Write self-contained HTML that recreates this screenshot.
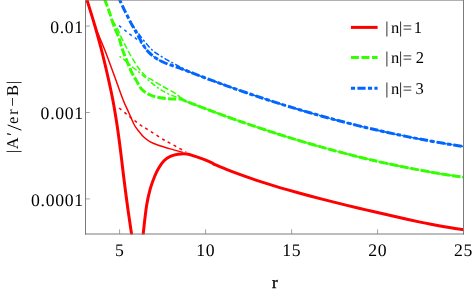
<!DOCTYPE html>
<html><head><meta charset="utf-8"><title>plot</title>
<style>html,body{margin:0;padding:0;background:#fff}body{width:474px;height:294px;overflow:hidden;font-family:"Liberation Serif",serif}text{text-rendering:geometricPrecision}</style>
</head><body>
<svg width="474" height="294" viewBox="0 0 474 294" style="display:block;will-change:transform">
<rect width="474" height="294" fill="#fff"/>
<defs><clipPath id="c"><rect x="85.5" y="0" width="378" height="234.6"/></clipPath></defs>
<g clip-path="url(#c)" fill="none" stroke-linecap="butt" stroke-linejoin="round">
<path d="M119.00 25.60 C120.03 26.42 123.37 29.05 125.20 30.50 C127.03 31.95 128.25 33.00 130.00 34.30 C131.75 35.60 133.95 36.97 135.70 38.30 C137.45 39.63 138.30 39.95 140.50 42.30 C142.70 44.65 146.35 49.77 148.90 52.40 C151.45 55.03 153.28 56.42 155.80 58.10 C158.32 59.78 161.13 61.22 164.00 62.50 C166.87 63.78 170.00 64.72 173.00 65.80 C176.00 66.88 179.17 67.95 182.00 69.00 C184.83 70.05 186.67 70.81 190.00 72.10 C193.33 73.39 198.00 75.20 202.00 76.71 C206.00 78.23 210.00 79.73 214.00 81.21 C218.00 82.69 222.00 84.15 226.00 85.58 C230.00 87.02 234.00 88.44 238.00 89.84 C242.00 91.23 246.00 92.61 250.00 93.97 C254.00 95.33 258.00 96.66 262.00 97.98 C266.00 99.29 270.00 100.59 274.00 101.87 C278.00 103.14 282.00 104.40 286.00 105.63 C290.00 106.86 294.00 108.08 298.00 109.27 C302.00 110.46 306.00 111.63 310.00 112.78 C314.00 113.94 318.00 115.07 322.00 116.18 C326.00 117.28 330.00 118.37 334.00 119.44 C338.00 120.51 342.00 121.55 346.00 122.58 C350.00 123.60 354.00 124.61 358.00 125.59 C362.00 126.57 366.00 127.53 370.00 128.47 C374.00 129.41 378.00 130.33 382.00 131.23 C386.00 132.13 390.00 133.00 394.00 133.86 C398.00 134.71 402.00 135.54 406.00 136.36 C410.00 137.17 414.00 137.96 418.00 138.72 C422.00 139.49 426.00 140.24 430.00 140.96 C434.00 141.69 438.00 142.39 442.00 143.07 C446.00 143.75 450.00 144.41 454.00 145.05 C458.00 145.68 463.33 146.49 466.00 146.89 C468.67 147.30 469.33 147.38 470.00 147.48" stroke="#0066ff" stroke-width="1.5" stroke-dasharray="3 3.6"/>
<path d="M131.40 23.90 C132.08 24.83 134.05 27.55 135.50 29.50 C136.95 31.45 138.28 33.22 140.10 35.60 C141.92 37.98 144.30 41.32 146.40 43.80 C148.50 46.28 150.40 48.50 152.70 50.50 C155.00 52.50 157.48 54.05 160.20 55.80 C162.92 57.55 166.70 59.70 169.00 61.00 C171.30 62.30 172.17 62.62 174.00 63.60 C175.83 64.58 177.33 65.48 180.00 66.90 C182.67 68.32 186.33 70.46 190.00 72.10 C193.67 73.74 198.00 75.20 202.00 76.71 C206.00 78.23 210.00 79.73 214.00 81.21 C218.00 82.69 222.00 84.15 226.00 85.58 C230.00 87.02 234.00 88.44 238.00 89.84 C242.00 91.23 246.00 92.61 250.00 93.97 C254.00 95.33 258.00 96.66 262.00 97.98 C266.00 99.29 270.00 100.59 274.00 101.87 C278.00 103.14 282.00 104.40 286.00 105.63 C290.00 106.86 294.00 108.08 298.00 109.27 C302.00 110.46 306.00 111.63 310.00 112.78 C314.00 113.94 318.00 115.07 322.00 116.18 C326.00 117.28 330.00 118.37 334.00 119.44 C338.00 120.51 342.00 121.55 346.00 122.58 C350.00 123.60 354.00 124.61 358.00 125.59 C362.00 126.57 366.00 127.53 370.00 128.47 C374.00 129.41 378.00 130.33 382.00 131.23 C386.00 132.13 390.00 133.00 394.00 133.86 C398.00 134.71 402.00 135.54 406.00 136.36 C410.00 137.17 414.00 137.96 418.00 138.72 C422.00 139.49 426.00 140.24 430.00 140.96 C434.00 141.69 438.00 142.39 442.00 143.07 C446.00 143.75 450.00 144.41 454.00 145.05 C458.00 145.68 463.33 146.49 466.00 146.89 C468.67 147.30 469.33 147.38 470.00 147.48" stroke="#0066ff" stroke-width="1.5" stroke-dasharray="5.5 2.2 2.2 2.2"/>
<path d="M118.00 -4.50 C118.33 -3.65 119.03 -1.62 120.00 0.60 C120.97 2.82 122.53 6.17 123.80 8.80 C125.07 11.43 126.33 13.88 127.60 16.40 C128.87 18.92 130.10 21.50 131.40 23.90 C132.70 26.30 134.07 28.43 135.40 30.80 C136.73 33.17 137.98 35.57 139.40 38.10 C140.82 40.63 142.32 43.62 143.90 46.00 C145.48 48.38 146.92 50.38 148.90 52.40 C150.88 54.42 153.28 56.42 155.80 58.10 C158.32 59.78 161.13 61.22 164.00 62.50 C166.87 63.78 170.00 64.72 173.00 65.80 C176.00 66.88 179.17 67.95 182.00 69.00 C184.83 70.05 186.67 70.81 190.00 72.10 C193.33 73.39 198.00 75.20 202.00 76.71 C206.00 78.23 210.00 79.73 214.00 81.21 C218.00 82.69 222.00 84.15 226.00 85.58 C230.00 87.02 234.00 88.44 238.00 89.84 C242.00 91.23 246.00 92.61 250.00 93.97 C254.00 95.33 258.00 96.66 262.00 97.98 C266.00 99.29 270.00 100.59 274.00 101.87 C278.00 103.14 282.00 104.40 286.00 105.63 C290.00 106.86 294.00 108.08 298.00 109.27 C302.00 110.46 306.00 111.63 310.00 112.78 C314.00 113.94 318.00 115.07 322.00 116.18 C326.00 117.28 330.00 118.37 334.00 119.44 C338.00 120.51 342.00 121.55 346.00 122.58 C350.00 123.60 354.00 124.61 358.00 125.59 C362.00 126.57 366.00 127.53 370.00 128.47 C374.00 129.41 378.00 130.33 382.00 131.23 C386.00 132.13 390.00 133.00 394.00 133.86 C398.00 134.71 402.00 135.54 406.00 136.36 C410.00 137.17 414.00 137.96 418.00 138.72 C422.00 139.49 426.00 140.24 430.00 140.96 C434.00 141.69 438.00 142.39 442.00 143.07 C446.00 143.75 450.00 144.41 454.00 145.05 C458.00 145.68 463.33 146.49 466.00 146.89 C468.67 147.30 469.33 147.38 470.00 147.48" stroke="#0066ff" stroke-width="3" stroke-dasharray="4.2 2.3 8.2 2.3" stroke-dashoffset="12.8"/>
<path d="M119.50 56.40 C120.65 57.23 124.52 59.83 126.40 61.40 C128.28 62.97 129.23 64.43 130.80 65.80 C132.37 67.17 134.02 68.20 135.80 69.60 C137.58 71.00 138.67 71.82 141.50 74.20 C144.33 76.58 149.22 81.07 152.80 83.90 C156.38 86.73 159.62 89.20 163.00 91.20 C166.38 93.20 170.27 94.77 173.10 95.90 C175.93 97.03 178.10 97.22 180.00 98.00 C181.90 98.78 182.50 99.67 184.50 100.60 C186.50 101.53 189.42 102.59 192.00 103.60 C194.58 104.61 196.67 105.41 200.00 106.68 C203.33 107.95 208.00 109.71 212.00 111.20 C216.00 112.69 220.00 114.16 224.00 115.61 C228.00 117.07 232.00 118.50 236.00 119.91 C240.00 121.33 244.00 122.72 248.00 124.10 C252.00 125.47 256.00 126.83 260.00 128.17 C264.00 129.50 268.00 130.82 272.00 132.11 C276.00 133.41 280.00 134.69 284.00 135.94 C288.00 137.20 292.00 138.43 296.00 139.64 C300.00 140.86 304.00 142.05 308.00 143.22 C312.00 144.39 316.00 145.54 320.00 146.67 C324.00 147.80 328.00 148.90 332.00 149.99 C336.00 151.07 340.00 152.13 344.00 153.17 C348.00 154.21 352.00 155.23 356.00 156.22 C360.00 157.22 364.00 158.19 368.00 159.14 C372.00 160.09 376.00 161.01 380.00 161.92 C384.00 162.82 388.00 163.70 392.00 164.55 C396.00 165.40 400.00 166.24 404.00 167.04 C408.00 167.85 412.00 168.63 416.00 169.39 C420.00 170.15 424.00 170.88 428.00 171.59 C432.00 172.29 436.00 172.98 440.00 173.64 C444.00 174.29 448.00 174.93 452.00 175.53 C456.00 176.14 461.00 176.85 464.00 177.27 C467.00 177.70 469.00 177.95 470.00 178.09" stroke="#33ff00" stroke-width="1.5" stroke-dasharray="2.2 2.2 5.5 2.2"/>
<path d="M112.60 20.70 C113.03 21.42 114.33 23.53 115.20 25.00 C116.07 26.47 116.75 27.37 117.80 29.50 C118.85 31.63 119.88 34.45 121.50 37.80 C123.12 41.15 125.63 46.08 127.50 49.60 C129.37 53.12 130.75 55.67 132.70 58.90 C134.65 62.13 137.10 66.20 139.20 69.00 C141.30 71.80 143.23 73.92 145.30 75.70 C147.37 77.48 148.65 77.90 151.60 79.70 C154.55 81.50 159.20 84.32 163.00 86.50 C166.80 88.68 171.57 91.05 174.40 92.80 C177.23 94.55 178.32 95.70 180.00 97.00 C181.68 98.30 182.50 99.50 184.50 100.60 C186.50 101.70 189.42 102.59 192.00 103.60 C194.58 104.61 196.67 105.41 200.00 106.68 C203.33 107.95 208.00 109.71 212.00 111.20 C216.00 112.69 220.00 114.16 224.00 115.61 C228.00 117.07 232.00 118.50 236.00 119.91 C240.00 121.33 244.00 122.72 248.00 124.10 C252.00 125.47 256.00 126.83 260.00 128.17 C264.00 129.50 268.00 130.82 272.00 132.11 C276.00 133.41 280.00 134.69 284.00 135.94 C288.00 137.20 292.00 138.43 296.00 139.64 C300.00 140.86 304.00 142.05 308.00 143.22 C312.00 144.39 316.00 145.54 320.00 146.67 C324.00 147.80 328.00 148.90 332.00 149.99 C336.00 151.07 340.00 152.13 344.00 153.17 C348.00 154.21 352.00 155.23 356.00 156.22 C360.00 157.22 364.00 158.19 368.00 159.14 C372.00 160.09 376.00 161.01 380.00 161.92 C384.00 162.82 388.00 163.70 392.00 164.55 C396.00 165.40 400.00 166.24 404.00 167.04 C408.00 167.85 412.00 168.63 416.00 169.39 C420.00 170.15 424.00 170.88 428.00 171.59 C432.00 172.29 436.00 172.98 440.00 173.64 C444.00 174.29 448.00 174.93 452.00 175.53 C456.00 176.14 461.00 176.85 464.00 177.27 C467.00 177.70 469.00 177.95 470.00 178.09" stroke="#33ff00" stroke-width="1.5" stroke-dasharray="6 2.5"/>
<path d="M103.20 -5.00 C103.48 -4.17 103.93 -2.67 104.90 0.00 C105.87 2.67 107.55 6.83 109.00 11.00 C110.45 15.17 111.95 20.53 113.60 25.00 C115.25 29.47 117.40 33.63 118.90 37.80 C120.40 41.97 121.15 45.85 122.60 50.00 C124.05 54.15 126.12 59.03 127.60 62.70 C129.08 66.37 130.13 69.20 131.50 72.00 C132.87 74.80 134.13 76.67 135.80 79.50 C137.47 82.33 139.08 86.42 141.50 89.00 C143.92 91.58 147.15 93.53 150.30 95.00 C153.45 96.47 156.82 97.15 160.40 97.80 C163.98 98.45 168.45 98.70 171.80 98.90 C175.15 99.10 178.38 98.72 180.50 99.00 C182.62 99.28 182.58 99.83 184.50 100.60 C186.42 101.37 189.42 102.59 192.00 103.60 C194.58 104.61 196.67 105.41 200.00 106.68 C203.33 107.95 208.00 109.71 212.00 111.20 C216.00 112.69 220.00 114.16 224.00 115.61 C228.00 117.07 232.00 118.50 236.00 119.91 C240.00 121.33 244.00 122.72 248.00 124.10 C252.00 125.47 256.00 126.83 260.00 128.17 C264.00 129.50 268.00 130.82 272.00 132.11 C276.00 133.41 280.00 134.69 284.00 135.94 C288.00 137.20 292.00 138.43 296.00 139.64 C300.00 140.86 304.00 142.05 308.00 143.22 C312.00 144.39 316.00 145.54 320.00 146.67 C324.00 147.80 328.00 148.90 332.00 149.99 C336.00 151.07 340.00 152.13 344.00 153.17 C348.00 154.21 352.00 155.23 356.00 156.22 C360.00 157.22 364.00 158.19 368.00 159.14 C372.00 160.09 376.00 161.01 380.00 161.92 C384.00 162.82 388.00 163.70 392.00 164.55 C396.00 165.40 400.00 166.24 404.00 167.04 C408.00 167.85 412.00 168.63 416.00 169.39 C420.00 170.15 424.00 170.88 428.00 171.59 C432.00 172.29 436.00 172.98 440.00 173.64 C444.00 174.29 448.00 174.93 452.00 175.53 C456.00 176.14 461.00 176.85 464.00 177.27 C467.00 177.70 469.00 177.95 470.00 178.09" stroke="#33ff00" stroke-width="3" stroke-dasharray="8.3 2.25" stroke-dashoffset="6.55"/>
<path d="M119.20 108.00 C120.23 108.87 123.52 111.63 125.40 113.20 C127.28 114.77 128.80 116.05 130.50 117.40 C132.20 118.75 133.83 119.95 135.60 121.30 C137.37 122.65 139.27 124.25 141.10 125.50 C142.93 126.75 142.78 126.38 146.60 128.80 C150.42 131.22 160.27 137.70 164.00 140.00 C167.73 142.30 167.22 141.65 169.00 142.60 C170.78 143.55 172.80 144.65 174.70 145.70 C176.60 146.75 178.50 147.85 180.40 148.90 C182.30 149.95 185.15 151.48 186.10 152.00" stroke="#ff0000" stroke-width="1.5" stroke-dasharray="3 3.6"/>
<path d="M85.30 -5.00 C85.58 -4.17 85.43 -5.00 87.00 0.00 C88.57 5.00 91.73 16.67 94.70 25.00 C97.67 33.33 101.58 41.67 104.80 50.00 C108.02 58.33 110.99 66.67 114.05 75.00 C117.11 83.33 120.74 93.83 123.15 100.00 C125.56 106.17 126.63 107.83 128.50 112.00 C130.37 116.17 132.52 121.65 134.35 125.00 C136.18 128.35 137.89 130.05 139.50 132.10 C141.11 134.15 142.28 135.72 144.00 137.30 C145.72 138.88 147.52 140.32 149.80 141.60 C152.08 142.88 154.28 143.78 157.70 145.00 C161.12 146.22 166.08 147.67 170.30 148.90 C174.52 150.13 180.88 151.82 183.00 152.40" stroke="#ff0000" stroke-width="1.5"/>
<path d="M85.40 -5.00 C85.67 -4.17 85.46 -5.00 87.00 0.00 C88.54 5.00 92.23 16.67 94.65 25.00 C97.07 33.33 99.36 41.67 101.50 50.00 C103.64 58.33 105.61 66.67 107.50 75.00 C109.39 83.33 111.26 91.67 112.85 100.00 C114.44 108.33 115.78 116.67 117.05 125.00 C118.32 133.33 119.38 141.67 120.45 150.00 C121.52 158.33 122.29 165.75 123.45 175.00 C124.61 184.25 126.08 195.83 127.40 205.50 C128.72 215.17 130.45 226.42 131.40 233.00 C132.35 239.58 132.82 243.00 133.10 245.00" stroke="#ff0000" stroke-width="3"/>
<path d="M142.30 245.00 C142.47 243.00 142.58 239.58 143.30 233.00 C144.02 226.42 145.43 212.88 146.60 205.50 C147.77 198.12 148.93 193.62 150.30 188.70 C151.67 183.78 153.37 179.48 154.80 176.00 C156.23 172.52 157.37 170.33 158.90 167.80 C160.43 165.27 162.10 162.70 164.00 160.80 C165.90 158.90 167.98 157.50 170.30 156.40 C172.62 155.30 175.15 154.62 177.90 154.20 C180.65 153.78 183.90 153.53 186.80 153.90 C189.70 154.27 192.35 155.45 195.30 156.40 C198.25 157.35 201.72 158.52 204.50 159.60 C207.28 160.68 210.25 162.05 212.00 162.90 C213.75 163.75 212.50 163.56 215.00 164.67 C217.50 165.78 223.00 167.99 227.00 169.57 C231.00 171.14 235.00 172.66 239.00 174.13 C243.00 175.60 247.00 177.01 251.00 178.38 C255.00 179.76 259.00 181.08 263.00 182.37 C267.00 183.66 271.00 184.90 275.00 186.12 C279.00 187.34 283.00 188.51 287.00 189.66 C291.00 190.82 295.00 191.93 299.00 193.03 C303.00 194.13 307.00 195.20 311.00 196.26 C315.00 197.32 319.00 198.35 323.00 199.38 C327.00 200.40 331.00 201.41 335.00 202.40 C339.00 203.39 343.00 204.37 347.00 205.34 C351.00 206.31 355.00 207.27 359.00 208.22 C363.00 209.17 367.00 210.10 371.00 211.04 C375.00 211.97 379.00 212.90 383.00 213.82 C387.00 214.74 391.00 215.66 395.00 216.57 C399.00 217.48 403.00 218.38 407.00 219.26 C411.00 220.15 415.00 221.02 419.00 221.85 C423.00 222.69 427.00 223.51 431.00 224.28 C435.00 225.05 439.00 225.80 443.00 226.49 C447.00 227.18 451.00 227.84 455.00 228.43 C459.00 229.03 464.50 229.72 467.00 230.05 C469.50 230.38 469.50 230.34 470.00 230.40" stroke="#ff0000" stroke-width="3"/>
</g>
<g stroke="#7b7b7b" stroke-width="1" fill="none">
<path d="M85.5 0V234.5 M85 234H464 M463.5 0V234.5 M85 0.1H464"/>
<path d="M119.6 234V229.3" stroke-width="0.7"/>
<path d="M205.6 234V229.3" stroke-width="0.7"/>
<path d="M291.6 234V229.3" stroke-width="0.7"/>
<path d="M377.6 234V229.3" stroke-width="0.7"/>
<path d="M463.5 234V229.3" stroke-width="0.7"/>
<path d="M85.5 26.1H89.8" stroke-width="0.7"/>
<path d="M85.5 112.5H89.8" stroke-width="0.7"/>
<path d="M85.5 198.9H89.8" stroke-width="0.7"/>
</g>
<g font-family="'Liberation Serif', serif" fill="#000" font-size="17.7">
<text x="119.7" y="256.4" text-anchor="middle" letter-spacing="0.7">5</text>
<text x="205.7" y="256.4" text-anchor="middle" letter-spacing="0.7">10</text>
<text x="291.7" y="256.4" text-anchor="middle" letter-spacing="0.7">15</text>
<text x="377.7" y="256.4" text-anchor="middle" letter-spacing="0.7">20</text>
<text x="463.6" y="256.4" text-anchor="middle" letter-spacing="0.7">25</text>
<text x="83.9" y="32.8" text-anchor="end" letter-spacing="0.7">0.01</text>
<text x="83.9" y="119.2" text-anchor="end" letter-spacing="0.7">0.001</text>
<text x="83.9" y="205.6" text-anchor="end" letter-spacing="0.7">0.0001</text>
<text x="271.9" y="287.6" font-size="17" stroke="#000" stroke-width="0.35">r</text>
<g transform="translate(18.3,152.5) rotate(-90)" font-size="16.5">
<text x="-0.75 3.32 16.8 28.6 37.66 45.94 56.56 68.15" y="0">|A′er−B|</text>
<path d="M22.3 3.1L27.6 -10.6" stroke="#000" stroke-width="1" fill="none"/>
</g>
</g>
<g fill="none" stroke-width="3">
<path d="M350.9 27.4H377.6" stroke="#ff0000"/>
<path d="M350.9 57.5H377.6" stroke="#33ff00" stroke-dasharray="8 2.55"/>
<path d="M350.9 88.2H377.6" stroke="#0066ff" stroke-dasharray="4.2 2.3 8.2 2.3"/>
</g>
<g font-family="'Liberation Serif', serif" fill="#000" font-size="16.5">
<text x="385.25 391.1 398.95 402.7 413.7" y="32.6">|n|=1</text>
<text x="385.25 391.1 398.95 402.7 415.7" y="63">|n|=2</text>
<text x="385.25 391.1 398.95 402.7 415.5" y="93.5">|n|=3</text>
</g>
</svg>
</body></html>
